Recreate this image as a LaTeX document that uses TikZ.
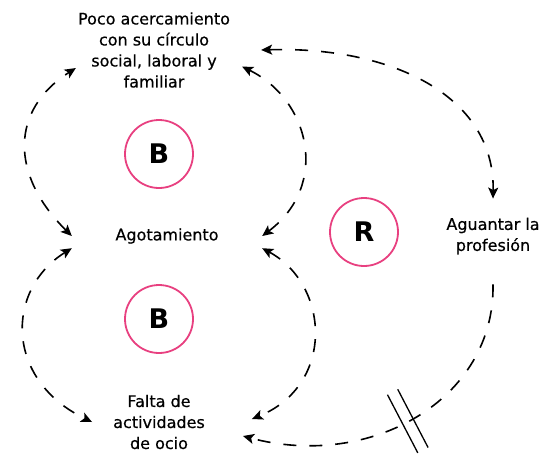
\documentclass[tikz,border=0pt]{standalone}
\usepackage{fontspec}
\setmainfont{DejaVu Sans}
\newfontfamily\factorfont{DejaVu Sans}[FakeBold=0.5]
\usetikzlibrary{arrows.meta}
\definecolor{looppink}{RGB}{232,64,128}
\tikzstyle{factor} = [align=center, inner sep=2pt, font=\factorfont\fontsize{16}{21}\selectfont]
\tikzstyle{loop} = [circle, draw=looppink, line width=1.8pt, minimum size=68pt, inner sep=0pt,
    font=\fontsize{27}{27}\selectfont\bfseries]
\tikzstyle{line} = [draw, line width=1.6pt, dash pattern=on 13pt off 13pt,
    >={Stealth[length=11pt,width=10pt,inset=2.5pt]}, <->]
\tikzstyle{oneway} = [line, ->]
\tikzstyle{delay} = [rectangle, sloped, minimum width=10pt, minimum height=64pt, inner sep=0pt]

\begin{document}
\begin{tikzpicture}[x=1pt, y=-1pt]
    \useasboundingbox (0,0) rectangle (543,456);
    % Place nodes
    \node [factor] (poco) at (154,50) {Poco acercamiento\\con su círculo\\social, laboral y\\familiar};
    \node [factor, minimum width=190pt, minimum height=24pt] (agot) at (167,236) {Agotamiento};
    \node [factor] (falta) at (159,422) {Falta de\\actividades\\de ocio};
    \node [factor] (aguant) at (493,236) {Aguantar la\\profesión};
    \node [loop] (b1) at (159,154) {B};
    \node [loop] (b2) at (159,319) {B};
    \node [loop] (r) at (364,232) {R};
    % Draw edges
    \path [line] (agot.west) .. controls (10,175) and (10,110) .. (poco.193);
    \path [line] ([xshift=10pt]poco.-12) .. controls (310,100) and (330,185) .. (agot.east);
    \path [line] (agot.south west) .. controls (5,290) and (5,380) .. ([xshift=-19pt]falta.west);
    \path [line] (agot.south east) .. controls (330,285) and (335,385) .. ([xshift=45pt,yshift=3pt]falta.east);
    \path [line] ([xshift=29pt]poco.east) .. controls (390,46) and (495,95) .. ([yshift=17pt]aguant.north);
    \path [oneway] ([yshift=-28pt]aguant.south) .. controls (495,400) and (370,470)
        .. ([xshift=36pt,yshift=-14pt]falta.east) node [delay, pos=0.53] (dly) {};
    % Delay mark
    \draw [line width=1.3pt] (dly.north west) -- (dly.south west) (dly.north east) -- (dly.south east);
\end{tikzpicture}
\end{document}
